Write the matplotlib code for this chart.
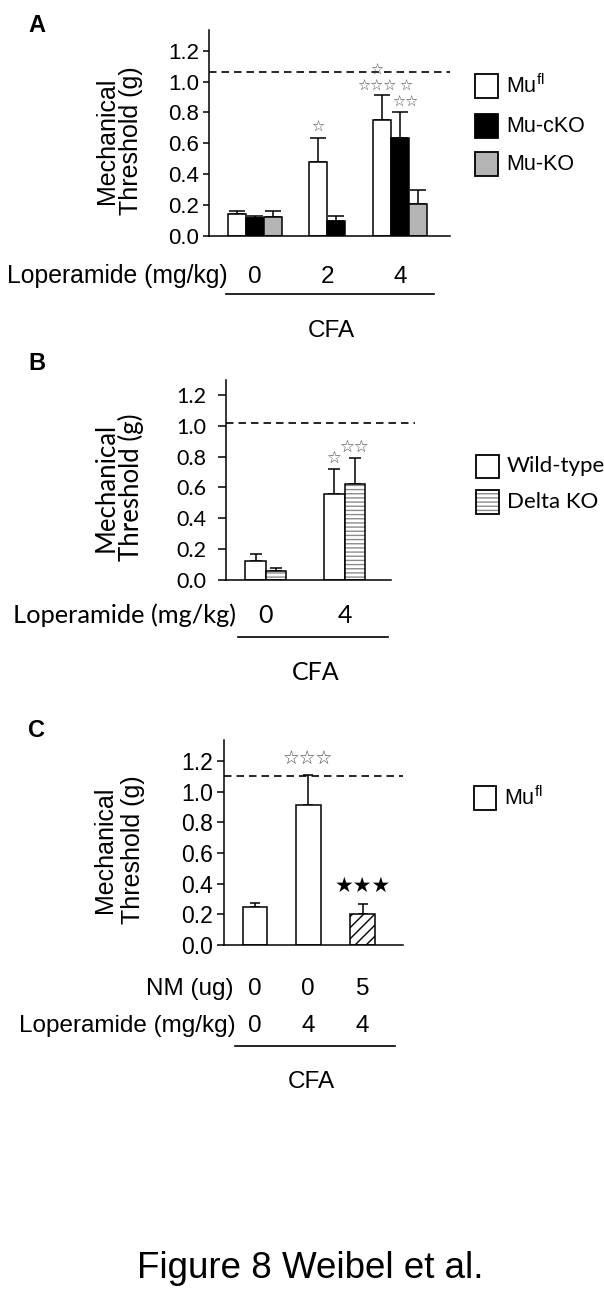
import matplotlib
matplotlib.use('Agg')
import matplotlib.pyplot as plt
import matplotlib.transforms as mtransforms
from matplotlib.patches import Rectangle
from matplotlib.lines import Line2D

W, H = 604, 1300
ARIAL = ['Liberation Sans', 'DejaVu Sans']
CALIB = ['Lato', 'DejaVu Sans']

plt.rcParams['font.family'] = ARIAL
plt.rcParams['mathtext.fontset'] = 'custom'
plt.rcParams['mathtext.rm'] = 'Liberation Sans'
plt.rcParams['hatch.linewidth'] = 1.0

# ---- panel A data (mean, sem) ----
dose_a = ['0', '2', '4']
series_a = ['Mu$^{\\mathrm{fl}}$', 'Mu-cKO', 'Mu-KO']
colors_a = ['white', 'black', '#b4b4b4']
mean_a = [[0.14, 0.48, 0.75],
          [0.115, 0.10, 0.637],
          [0.125, None, 0.207]]
sem_a = [[0.022, 0.155, 0.16],
         [0.015, 0.03, 0.168],
         [0.039, None, 0.091]]
baseline_a = 1.06
stars_a = {(1, 0): ['☆'], (2, 0): ['☆☆☆', '☆'], (2, 1): ['☆☆', '☆']}

# ---- panel B data ----
dose_b = ['0', '4']
series_b = ['Wild-type', 'Delta KO']
mean_b = [[0.125, 0.56],
          [0.056, 0.62]]
sem_b = [[0.045, 0.16],
         [0.022, 0.17]]
baseline_b = 1.02
stars_b = {(1, 0): ['☆'], (1, 1): ['☆☆']}

# ---- panel C data ----
nm_c = ['0', '0', '5']
lop_c = ['0', '4', '4']
mean_c = [0.25, 0.91, 0.20]
sem_c = [0.026, 0.20, 0.07]
baseline_c = 1.10

fig = plt.figure(figsize=(W / 100, H / 100), dpi=100)


def fx(px):
    return px / W


def fy(py):
    return 1 - py / H


def make_axes(left, right, top, bottom, ymax, xmax, spine_end, tick_len, pad, tick_fs, fam):
    ax = fig.add_axes([fx(left), fy(bottom), (right - left) / W, (bottom - top) / H])
    ax.set_ylim(0, ymax)
    ax.set_xlim(0, xmax)
    for s in ['top', 'right']:
        ax.spines[s].set_visible(False)
    for s in ['left', 'bottom']:
        ax.spines[s].set_linewidth(1.1)
    ax.spines['bottom'].set_bounds(0, spine_end)
    ax.set_yticks([0, 0.2, 0.4, 0.6, 0.8, 1.0, 1.2])
    ax.set_yticklabels(['0.0', '0.2', '0.4', '0.6', '0.8', '1.0', '1.2'],
                       fontsize=tick_fs, family=fam)
    ax.tick_params(axis='y', direction='out', length=tick_len, width=1.1, pad=pad)
    ax.set_xticks([])
    ax.patch.set_alpha(0)
    return ax


def bar(ax, x, h, e, face, hatch=None, hcolor='black', cap=5):
    if hatch:
        ax.bar(x, h, width=1, color='white', edgecolor=hcolor, hatch=hatch, linewidth=0, zorder=2)
        ax.bar(x, h, width=1, fill=False, edgecolor='black', linewidth=1.1, zorder=3)
    else:
        ax.bar(x, h, width=1, color=face, edgecolor='black', linewidth=1.1, zorder=2)
    ax.errorbar(x, h, yerr=[[0], [e]], fmt='none', ecolor='black', elinewidth=1.1,
                capsize=cap, capthick=1.1, zorder=1)


def star_rows(ax, x, y0, rows, fs, color='#4a4a4a', step=0.082, first=0.07):
    # rows listed bottom -> top, drawn as one centred block
    yc = y0 + first + (len(rows) - 1) * step / 2
    ax.text(x, yc, '\n'.join(reversed(rows)), ha='center', va='center', ma='center',
            fontsize=fs, linespacing=1.1, color=color, family=['DejaVu Sans'], zorder=4)


def ylabel(xa, xb, yc, fs, fam):
    fig.text(fx(xa), fy(yc), 'Mechanical', rotation=90, ha='center', va='center',
             fontsize=fs, family=fam)
    fig.text(fx(xb), fy(yc), 'Threshold (g)', rotation=90, ha='center', va='center',
             fontsize=fs, family=fam)


def legend_box(x0, y0, w, h, face='white', hatch=None, hcolor='black'):
    if hatch:
        fig.add_artist(Rectangle((fx(x0), fy(y0 + h)), w / W, h / H, transform=fig.transFigure,
                                 facecolor='white', edgecolor=hcolor, hatch=hatch, linewidth=0))
        fig.add_artist(Rectangle((fx(x0), fy(y0 + h)), w / W, h / H, transform=fig.transFigure,
                                 fill=False, edgecolor='black', linewidth=1.3))
    else:
        fig.add_artist(Rectangle((fx(x0), fy(y0 + h)), w / W, h / H, transform=fig.transFigure,
                                 facecolor=face, edgecolor='black', linewidth=1.3))


def hline(x0, x1, y):
    fig.add_artist(Line2D([fx(x0), fx(x1)], [fy(y), fy(y)], transform=fig.transFigure,
                          color='black', linewidth=1.2))


# ================= Panel A =================
ax_a = make_axes(209, 450, 30, 236, 1.334, 13.39, 13.39, 4.5, 2.5, 16, ARIAL)
left_a = [1.03, 5.56, 9.1]
trans_a = mtransforms.blended_transform_factory(ax_a.transData, fig.transFigure)
star_shift = {(2, 0): -0.3, (2, 1): 0.3}
for g, gl in enumerate(left_a):
    centers = []
    for s in range(3):
        m = mean_a[s][g]
        if m is None:
            continue
        x = gl + s + 0.5
        centers.append(x)
        bar(ax_a, x, m, sem_a[s][g], colors_a[s], cap=6)
        if (g, s) in stars_a:
            star_rows(ax_a, x + star_shift.get((g, s), 0), m + sem_a[s][g], stars_a[(g, s)], 10.5)
    ax_a.text(sum(centers) / len(centers), fy(283), dose_a[g], transform=trans_a,
              ha='center', va='baseline', fontsize=17.5)
ax_a.axhline(baseline_a, color='black', linewidth=1.2, dashes=(4.5, 3), zorder=0)
ylabel(107.5, 131, 141, 18, ARIAL)
fig.text(fx(228), fy(283), 'Loperamide (mg/kg)', ha='right', va='baseline', fontsize=17.8)
hline(225.7, 434.4, 294)
fig.text(fx(331), fy(337), 'CFA', ha='center', va='baseline', fontsize=17.5)
fig.text(fx(28), fy(32), 'A', ha='left', va='baseline', fontsize=17, fontweight='bold')
for i, (lab, c) in enumerate(zip(series_a, colors_a)):
    top = [74, 114, 152][i]
    legend_box(475.4, top, 23, 24, face=c)
    fig.text(fx(506), fy(top + 12), lab, ha='left', va='center', fontsize=15.5)

# ================= Panel B =================
ax_b = make_axes(225.7, 415, 380, 580, 1.297, 9.23, 8.06, 6, 8, 15.5, CALIB)
left_b = [0.96, 4.8]
trans_b = mtransforms.blended_transform_factory(ax_b.transData, fig.transFigure)
for g, gl in enumerate(left_b):
    for s in range(2):
        x = gl + s + 0.5
        if s == 0:
            bar(ax_b, x, mean_b[s][g], sem_b[s][g], 'white', cap=4)
        else:
            bar(ax_b, x, mean_b[s][g], sem_b[s][g], 'white', hatch='----', hcolor='#8c8c8c', cap=4)
        if (g, s) in stars_b:
            star_rows(ax_b, x, mean_b[s][g] + sem_b[s][g], stars_b[(g, s)], 12, first=0.075)
    ax_b.text(gl + 1.0, fy(623), dose_b[g], transform=trans_b,
              ha='center', va='baseline', fontsize=18, family=CALIB)
ax_b.axhline(baseline_b, color='black', linewidth=1.2, dashes=(4.5, 3), zorder=0)
ylabel(106, 131, 487, 18.5, CALIB)
fig.text(fx(236), fy(623), 'Loperamide (mg/kg)', ha='right', va='baseline', fontsize=18.3, family=CALIB)
hline(238, 388, 637)
fig.text(fx(315.5), fy(680), 'CFA', ha='center', va='baseline', fontsize=18, family=CALIB)
fig.text(fx(28), fy(370), 'B', ha='left', va='baseline', fontsize=17, fontweight='bold')
legend_box(476, 455, 23, 23)
fig.text(fx(507), fy(466), series_b[0], ha='left', va='center', fontsize=16, family=CALIB)
legend_box(476, 490, 23, 24, hatch='----', hcolor='#8c8c8c')
fig.text(fx(507), fy(502), series_b[1], ha='left', va='center', fontsize=16, family=CALIB)

# ================= Panel C =================
ax_c = make_axes(224, 402.6, 740, 945, 1.337, 7.21, 7.21, 5, 3, 16.5, ARIAL)
left_c = [0.75, 2.9, 5.1]
trans_c = mtransforms.blended_transform_factory(ax_c.transData, fig.transFigure)
for g, gl in enumerate(left_c):
    x = gl + 0.5
    if g == 2:
        bar(ax_c, x, mean_c[g], sem_c[g], 'white', hatch='///', hcolor='black', cap=3.5)
    else:
        bar(ax_c, x, mean_c[g], sem_c[g], 'white', cap=3.5)
    ax_c.text(x, fy(995), nm_c[g], transform=trans_c, ha='center', va='baseline', fontsize=17.5)
    ax_c.text(x, fy(1032), lop_c[g], transform=trans_c, ha='center', va='baseline', fontsize=17.5)
star_rows(ax_c, left_c[1] + 0.5, mean_c[1] + sem_c[1], ['☆☆☆'], 13.5, first=0.10)
star_rows(ax_c, left_c[2] + 0.5, mean_c[2] + sem_c[2], ['★★★'], 15, color='black', first=0.115)
ax_c.axhline(baseline_c, color='black', linewidth=1.2, dashes=(4.5, 3), zorder=0)
ylabel(105, 133, 850, 18, ARIAL)
fig.text(fx(234), fy(995), 'NM (ug)', ha='right', va='baseline', fontsize=17.5)
fig.text(fx(236), fy(1032), 'Loperamide (mg/kg)', ha='right', va='baseline', fontsize=17.5)
hline(235, 395, 1046)
fig.text(fx(311.6), fy(1088), 'CFA', ha='center', va='baseline', fontsize=17.5)
fig.text(fx(28), fy(737), 'C', ha='left', va='baseline', fontsize=17, fontweight='bold')
legend_box(474, 786, 22, 24)
fig.text(fx(504), fy(798), 'Mu$^{\\mathrm{fl}}$', ha='left', va='center', fontsize=15.5)

fig.text(fx(310), fy(1278), 'Figure 8 Weibel et al.', ha='center', va='baseline', fontsize=26.5)

fig.savefig('out.png', dpi=100)
